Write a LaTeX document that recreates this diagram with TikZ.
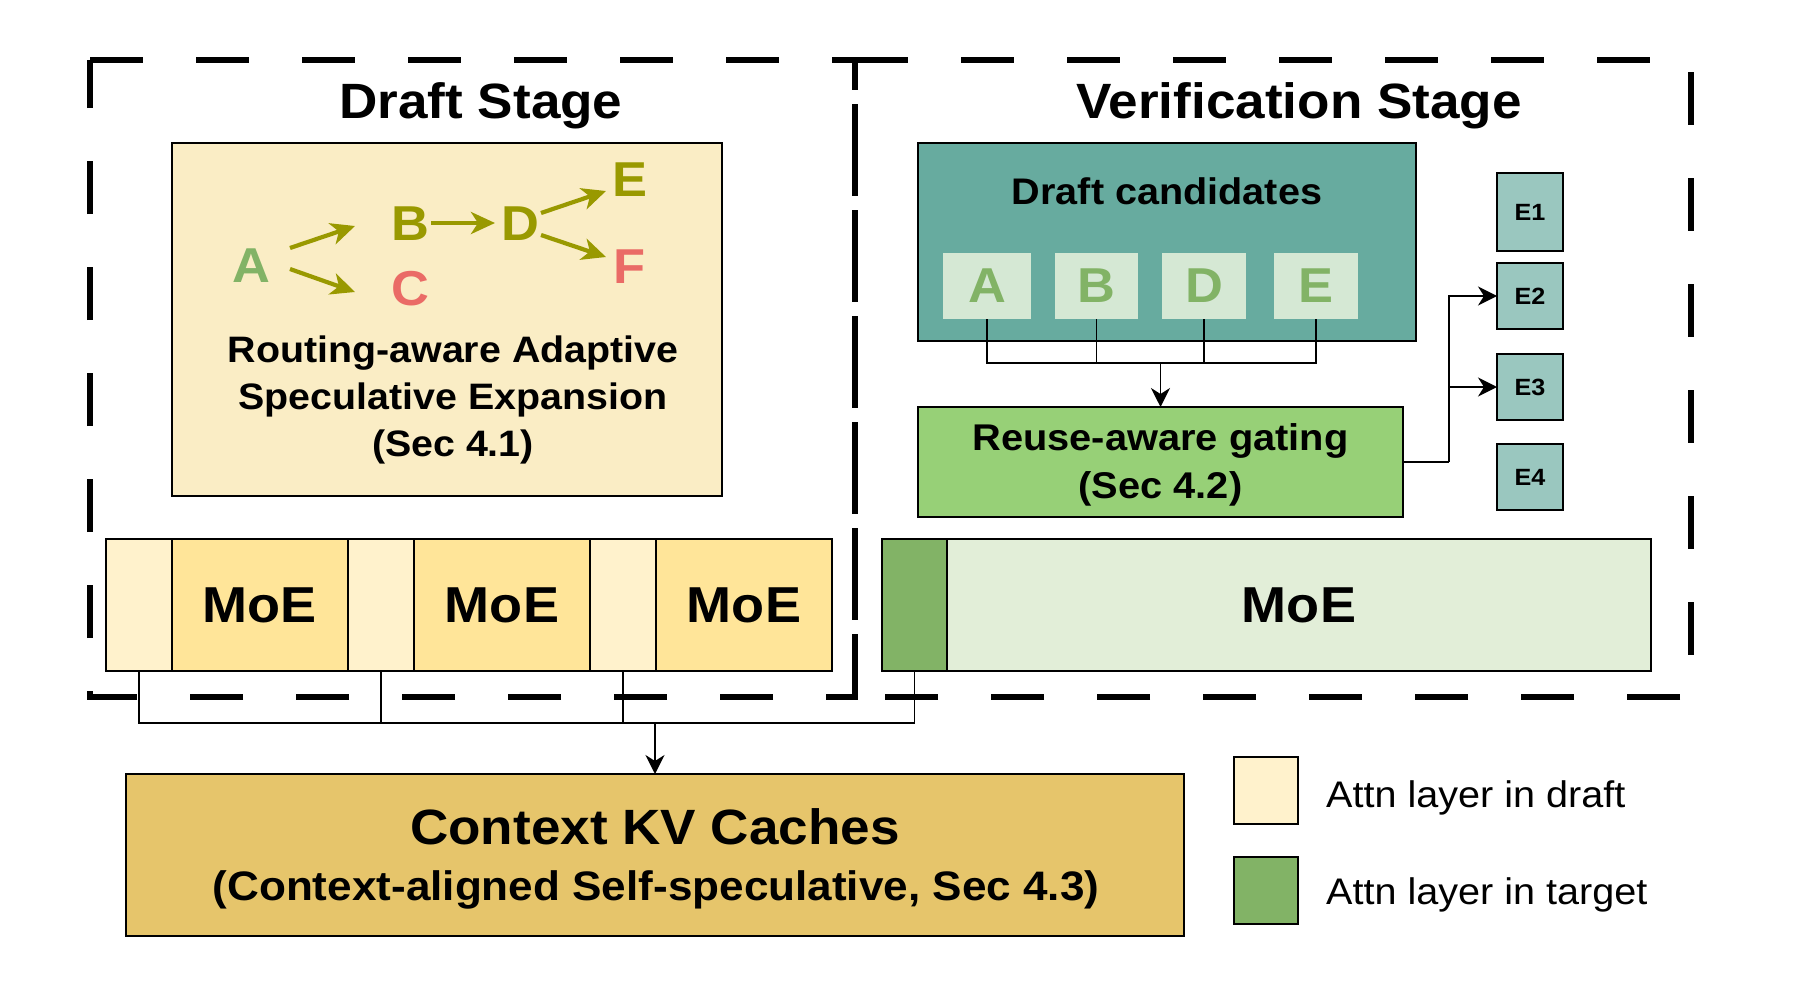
\documentclass[tikz,border=0pt]{standalone}
\usepackage{fontspec}
\setmainfont{Liberation Sans}[FakeStretch=1.07]
\usetikzlibrary{arrows.meta}
\definecolor{routeY}{HTML}{FAEDC5}
\definecolor{attnY}{HTML}{FFF2CC}
\definecolor{moeY}{HTML}{FFE599}
\definecolor{kvY}{HTML}{E6C56B}
\definecolor{candG}{HTML}{67AB9F}
\definecolor{tokBG}{HTML}{D5E8D4}
\definecolor{tokG}{HTML}{82B366}
\definecolor{gateG}{HTML}{97D077}
\definecolor{expG}{HTML}{9AC7BF}
\definecolor{moeG}{HTML}{E2EED8}
\definecolor{attnG}{HTML}{82B366}
\definecolor{oliveC}{HTML}{999900}
\definecolor{redC}{HTML}{EA6B66}
\newcommand{\fsz}[2]{\fontsize{#1}{#2}\selectfont}

\begin{document}
\begin{tikzpicture}[x=1pt,y=-1pt]
	\tikzset{
		stage/.style={line width=6.5pt,dash pattern=on 53pt off 53pt},
		box/.style={draw,line width=1.8pt,inner sep=0pt,outer sep=0pt},
		title/.style={font=\bfseries\fsz{49.6}{60},anchor=base,inner sep=0pt},
		glyph/.style={font=\bfseries\fsz{49}{58},inner sep=0pt},
		specarrow/.style={draw=oliveC,line width=4.2pt,-{Stealth[length=24pt,width=22pt,inset=7pt]}},
		tok/.style={fill=tokBG,text=tokG,font=\bfseries\fsz{49}{58},minimum height=66pt,inner sep=0pt},
		expert/.style={box,fill=expG,font=\bfseries\fsz{23.5}{28},minimum width=66pt},
		link/.style={draw,line width=1.6pt},
		headarrow/.style={-{Stealth[length=19pt,width=19pt,inset=6pt]}},
		keytext/.style={font=\fsz{37}{45},anchor=base west,inner sep=0pt}
	}
	\useasboundingbox (0,0) rectangle (1800,994);
	\draw[stage] (90,60) -- (855,60) -- (855,697) -- (90,697) -- cycle;
	\draw[stage] (855,60) -- (1691,60) -- (1691,697) -- (855,697);
	\draw[stage,dash phase=96pt] (855,697) -- (855,60);
	\node[title] (drafttitle) at (481,118) {Draft Stage};
	\node[title] (veriftitle) at (1299,118) {Verification Stage};
	\node[box,fill=routeY,minimum width=550pt,minimum height=353pt] (rase) at (447,319.5) {};
	\node[glyph,text=tokG] (gA) at (251,265.5) {A};
	\node[glyph,text=oliveC] (gB) at (410.5,224) {B};
	\node[glyph,text=redC] (gC) at (410,289) {C};
	\node[glyph,text=oliveC] (gD) at (520.5,224) {D};
	\node[glyph,text=oliveC] (gE) at (630,180) {E};
	\node[glyph,text=redC] (gF) at (630,267) {F};
	\draw[specarrow] ([shift={(39,-17.5)}]gA.center) -- ([shift={(-55.5,2)}]gB.center);
	\draw[specarrow] ([shift={(39,3.5)}]gA.center) -- ([shift={(-55,3)}]gC.center);
	\draw[specarrow] ([shift={(20.5,-1)}]gB.center) -- ([shift={(-25.5,-1)}]gD.center);
	\draw[specarrow] ([shift={(20.5,-11)}]gD.center) -- ([shift={(-24,11)}]gE.center);
	\draw[specarrow] ([shift={(20.5,11)}]gD.center) -- ([shift={(-24,-10)}]gF.center);
	\node[font=\bfseries\fsz{36.8}{47},align=center,inner sep=0pt] (rasetxt) at (453,400) {Routing-aware Adaptive\\Speculative Expansion\\(Sec 4.1)};

	\node[box,fill=candG,minimum width=498pt,minimum height=198pt] (cand) at (1167,242) {};
	\node[font=\bfseries\fsz{37}{45},anchor=base,inner sep=0pt] (candtxt) at (1167,204) {Draft candidates};
	\foreach \n/\x/\w in {A/987/88,B/1096.5/83,D/1204/84,E/1316/84}
		\node[tok,minimum width=\w pt] (c\n) at (\x,286) {\n};
	\node[box,fill=gateG,minimum width=485pt,minimum height=110pt] (gate) at (1160.5,462) {};
	\node[font=\bfseries\fsz{37.2}{48},align=center,inner sep=0pt] (gatetxt) at (1160.5,464.5) {Reuse-aware gating\\(Sec 4.2)};
	\foreach \i/\y/\h in {1/212/78,2/296/66,3/387/66,4/477/66}
		\node[expert,minimum height=\h pt] (E\i) at (1530,\y) {E\i};
	\coordinate (candmerge) at (1160.5,363);
	\foreach \n in {A,B,D,E}
		\draw[link] (c\n.south) |- (candmerge);
	\draw[link,headarrow] (candmerge) -- (gate.north);
	\coordinate (gsplit) at (1449,462);
	\draw[link] (gate.east) -- (gsplit);
	\draw[link,headarrow] (gsplit) |- (E2.west);
	\draw[link,headarrow] (gsplit) |- (E3.west);

	\foreach \i in {1,2,3} {
		\node[box,fill=attnY,minimum width=66pt,minimum height=132pt] (attn\i) at ({139+242*(\i-1)},605) {};
		\node[box,fill=moeY,minimum width=176pt,minimum height=132pt,font=\bfseries\fsz{50.5}{60}] (moe\i) at ({260+242*(\i-1)},605) {MoE};
	}
	\node[box,fill=attnG,minimum width=65pt,minimum height=132pt] (vattn) at (914.5,605) {};
	\node[box,fill=moeG,minimum width=704pt,minimum height=132pt,font=\bfseries\fsz{50.5}{60}] (vmoe) at (1299,605) {MoE};

	\node[box,fill=kvY,minimum width=1058pt,minimum height=162pt] (kv) at (655,855) {};
	\node[title] (kvtitle) at (655,844) {Context KV Caches};
	\node[font=\bfseries\fsz{41.2}{50},anchor=base,inner sep=0pt] (kvsub) at (656,900) {(Context-aligned Self-speculative, Sec 4.3)};
	\coordinate (kvmerge) at (655,723);
	\foreach \n in {attn1,attn2,attn3,vattn}
		\draw[link] (\n.south) |- (kvmerge);
	\draw[link,headarrow] (kvmerge) -- (kv.north);

	\node[box,fill=attnY,minimum width=64pt,minimum height=67pt] (keydraft) at (1266,790.5) {};
	\node[box,fill=attnG,minimum width=64pt,minimum height=67pt] (keytarget) at (1266,890.5) {};
	\node[keytext] (keydrafttxt) at (1326,807) {Attn layer in draft};
	\node[keytext] (keytargettxt) at (1326,904) {Attn layer in target};
\end{tikzpicture}
\end{document}
